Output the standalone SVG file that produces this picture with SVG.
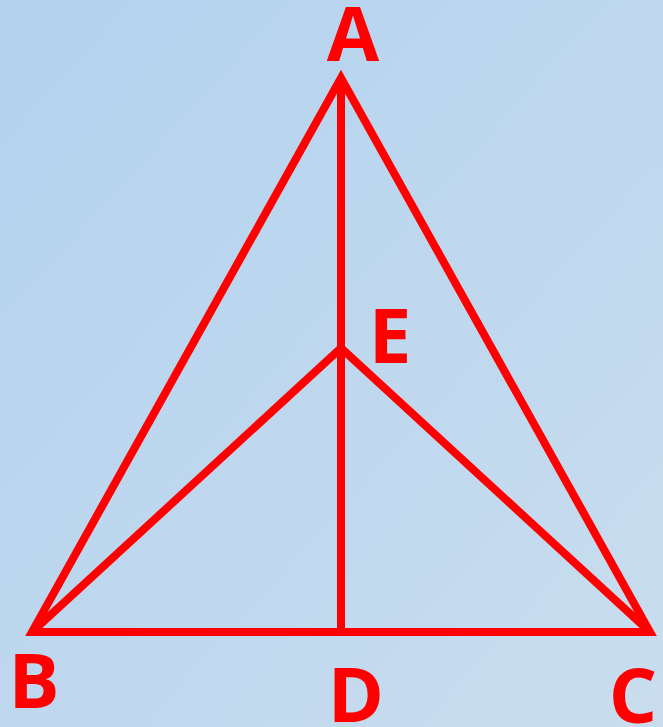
<svg xmlns="http://www.w3.org/2000/svg" width="663" height="727" viewBox="0 0 663 727">
<defs>
<linearGradient id="bg" x1="0" y1="0" x2="1" y2="1">
<stop offset="0" stop-color="#b3d2ef"/>
<stop offset="1" stop-color="#c9ddee"/>
</linearGradient>
<style>
.edge{fill:none;stroke:#ff0000;stroke-width:8;stroke-linejoin:miter;stroke-miterlimit:10}
.lbl{font-family:"Open Sans","Noto Sans","Liberation Sans",sans-serif;font-weight:bold;font-size:76px;fill:#ff0000;text-anchor:middle}
</style>
</defs>
<rect width="663" height="727" fill="url(#bg)"/>
<g id="connectors">
<polygon class="edge" points="341,78 32,632 650,632"/>
<line class="edge" x1="341" y1="78" x2="341" y2="632"/>
<polyline class="edge" points="32,632 341,348 650,632"/>
</g>
<g id="A"><text class="lbl" x="353" y="61">A</text></g>
<g id="B"><text class="lbl" x="34" y="708">B</text></g>
<g id="C"><text class="lbl" x="633" y="723">C</text></g>
<g id="D"><text class="lbl" x="356" y="722">D</text></g>
<g id="E"><text class="lbl" x="390" y="363">E</text></g>
</svg>
